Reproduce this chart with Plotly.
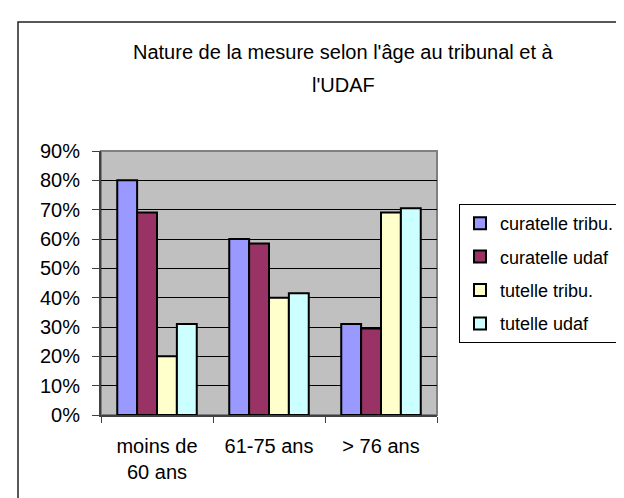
import plotly.graph_objects as go

# Excel-style chart: nature of the protective measure by age group
CATEGORIES = ["moins de<br>60 ans", "61-75 ans", "> 76 ans"]
CURATELLE_TRIBU = [0.80, 0.60, 0.31]
CURATELLE_UDAF = [0.69, 0.585, 0.295]
TUTELLE_TRIBU = [0.20, 0.40, 0.69]
TUTELLE_UDAF = [0.31, 0.415, 0.705]
Y_TICKS = [0, 0.1, 0.2, 0.3, 0.4, 0.5, 0.6, 0.7, 0.8, 0.9]
TITLE_LINES = ["Nature de la mesure selon l'âge au tribunal et à", "l'UDAF"]

SERIES = [
    ("curatelle tribu.", CURATELLE_TRIBU, "#9999FF"),
    ("curatelle udaf", CURATELLE_UDAF, "#993366"),
    ("tutelle tribu.", TUTELLE_TRIBU, "#FFFFCC"),
    ("tutelle udaf", TUTELLE_UDAF, "#CCFFFF"),
]

FONT = "Arial, 'Liberation Sans', sans-serif"
FS = 20

# plot area in pixels: x 93..429, y 143..407
W, H = 624, 498
L, R, T, B = 93, 195, 143, 91
PW, PH = W - L - R, H - T - B


def px_x(x):
    return (x - L) / PW


def px_y(y):
    return (H - B - y) / PH


fig = go.Figure()
for name, vals, color in SERIES:
    fig.add_trace(
        go.Bar(
            x=CATEGORIES,
            y=vals,
            name=name,
            legendgroup=name,
            marker=dict(color=color, line=dict(color="black", width=2)),
        )
    )

fig.update_layout(
    width=W,
    height=H,
    margin=dict(l=L, r=R, t=T, b=B, autoexpand=False),
    paper_bgcolor="white",
    plot_bgcolor="#C0C0C0",
    font=dict(family=FONT, size=FS, color="black"),
    barmode="group",
    bargap=0.29,
    bargroupgap=0,
    showlegend=True,
    legend=dict(
        x=px_x(451),
        y=px_y(196),
        xanchor="left",
        yanchor="top",
        bordercolor="black",
        borderwidth=1,
        bgcolor="white",
        font=dict(family=FONT, size=18, color="black"),
        traceorder="grouped",
        tracegroupgap=7,
        itemwidth=30,
    ),
    annotations=[
        dict(text=TITLE_LINES[0], x=px_x(335), y=px_y(44),
             xref="paper", yref="paper", showarrow=False, xanchor="center", yanchor="middle",
             font=dict(family=FONT, size=FS)),
        dict(text=TITLE_LINES[1], x=px_x(335), y=px_y(77),
             xref="paper", yref="paper", showarrow=False, xanchor="center", yanchor="middle",
             font=dict(family=FONT, size=FS)),
    ],
    shapes=[
        # chart area border (runs off the right/bottom of the picture)
        dict(type="rect", xref="paper", yref="paper", x0=px_x(10), y0=px_y(520),
             x1=px_x(660), y1=px_y(14), line=dict(color="#222222", width=1.5), layer="below"),
        # plot area border
        dict(type="rect", xref="paper", yref="paper", x0=0, y0=0, x1=1, y1=1,
             line=dict(color="#808080", width=2), layer="below"),
    ],
)

fig.update_yaxes(
    range=[0, 0.9],
    tickvals=Y_TICKS,
    tickformat=".0%",
    showgrid=True,
    gridcolor="black",
    gridwidth=1,
    zeroline=False,
    showline=True,
    linecolor="#404040",
    linewidth=2,
    ticks="outside",
    ticklen=7,
    tickcolor="#404040",
    ticklabelstandoff=8,
    tickfont=dict(family=FONT, size=FS),
)
fig.update_xaxes(
    showgrid=False,
    showline=True,
    linecolor="#404040",
    linewidth=2,
    ticks="outside",
    tickson="boundaries",
    ticklen=6,
    tickcolor="#404040",
    ticklabelstandoff=12,
    tickfont=dict(family=FONT, size=FS),
)

fig.write_html("out.html")
